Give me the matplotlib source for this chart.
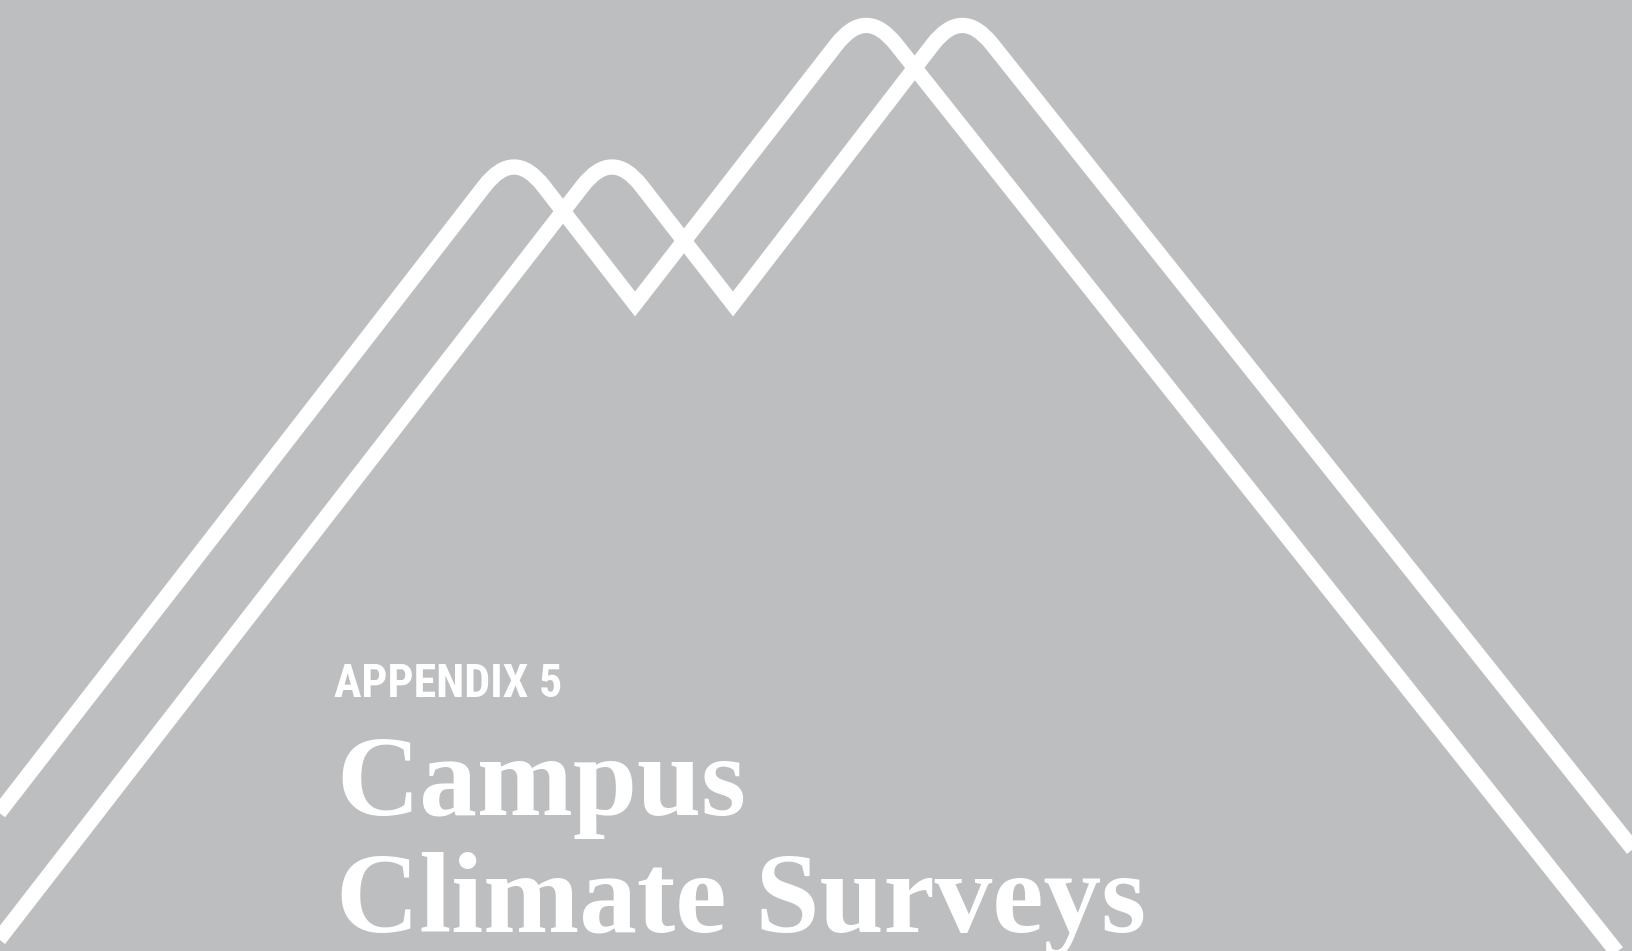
"""
Cover page: Appendix 5 – Campus Climate Surveys.
White mountain outline strokes on a flat grey page, title text in the lower left.
"""

import matplotlib
matplotlib.use("Agg")
import matplotlib.pyplot as plt
from matplotlib.path import Path
from matplotlib.patches import PathPatch

# ─── Page style ─────────────────────────────────────────────────────────────

PAGE_BG = "#bdbec0"
INK     = "#ffffff"
W, H    = 1632, 951

# ─── Outline data (page pixels, y grows downward) ───────────────────────────

ridge_a_x = [-30, 514, 635, 866, 1655]
ridge_a_y = [850, 148, 304, 6.5, 1000]

ridge_b_x = [-48, 612, 733, 962, 1660]
ridge_b_y = [1000, 148, 304, 6.5, 883]

# vertices that get a rounded top (the peaks); valleys stay sharp
peak_idx = [1, 3]

label_small = "APPENDIX 5"
title_lines = ["Campus", "Climate Surveys"]


def _rounded_path(xs, ys, rounded, cut=48.0):
    """Polyline with quadratic rounding at the given vertex indices."""
    pts = list(zip(xs, ys))
    verts = [pts[0]]
    codes = [Path.MOVETO]
    for i in range(1, len(pts) - 1):
        vx, vy = pts[i]
        if i in rounded:
            px, py = pts[i - 1]
            nx, ny = pts[i + 1]
            d0 = ((vx - px) ** 2 + (vy - py) ** 2) ** 0.5
            d1 = ((nx - vx) ** 2 + (ny - vy) ** 2) ** 0.5
            a = (vx + (px - vx) * cut / d0, vy + (py - vy) * cut / d0)
            b = (vx + (nx - vx) * cut / d1, vy + (ny - vy) * cut / d1)
            verts += [a, (vx, vy), b]
            codes += [Path.LINETO, Path.CURVE3, Path.CURVE3]
        else:
            verts.append((vx, vy))
            codes.append(Path.LINETO)
    verts.append(pts[-1])
    codes.append(Path.LINETO)
    return Path(verts, codes)


fig = plt.figure(figsize=(W / 100, H / 100), dpi=100)
fig.patch.set_facecolor(PAGE_BG)
ax = fig.add_axes([0, 0, 1, 1])
ax.set_facecolor(PAGE_BG)
ax.set_xlim(0, W)
ax.set_ylim(H, 0)
ax.axis("off")

for xs, ys in [(ridge_a_x, ridge_a_y), (ridge_b_x, ridge_b_y)]:
    ax.add_patch(PathPatch(_rounded_path(xs, ys, peak_idx), facecolor="none",
                           edgecolor=INK, lw=11, joinstyle="miter",
                           capstyle="butt"))

ax.text(334, 697, label_small, color=INK, fontsize=33, fontweight="bold",
        family=["Roboto Condensed", "Liberation Sans"],
        ha="left", va="baseline")

for i, line in enumerate(title_lines):
    ax.text(336, 815 + i * 116.5, line, color=INK, fontsize=83,
            fontweight="bold", family=["Liberation Serif", "DejaVu Serif"],
            ha="left", va="baseline")

fig.savefig("out.png", dpi=100, facecolor=fig.get_facecolor())
plt.close(fig)
